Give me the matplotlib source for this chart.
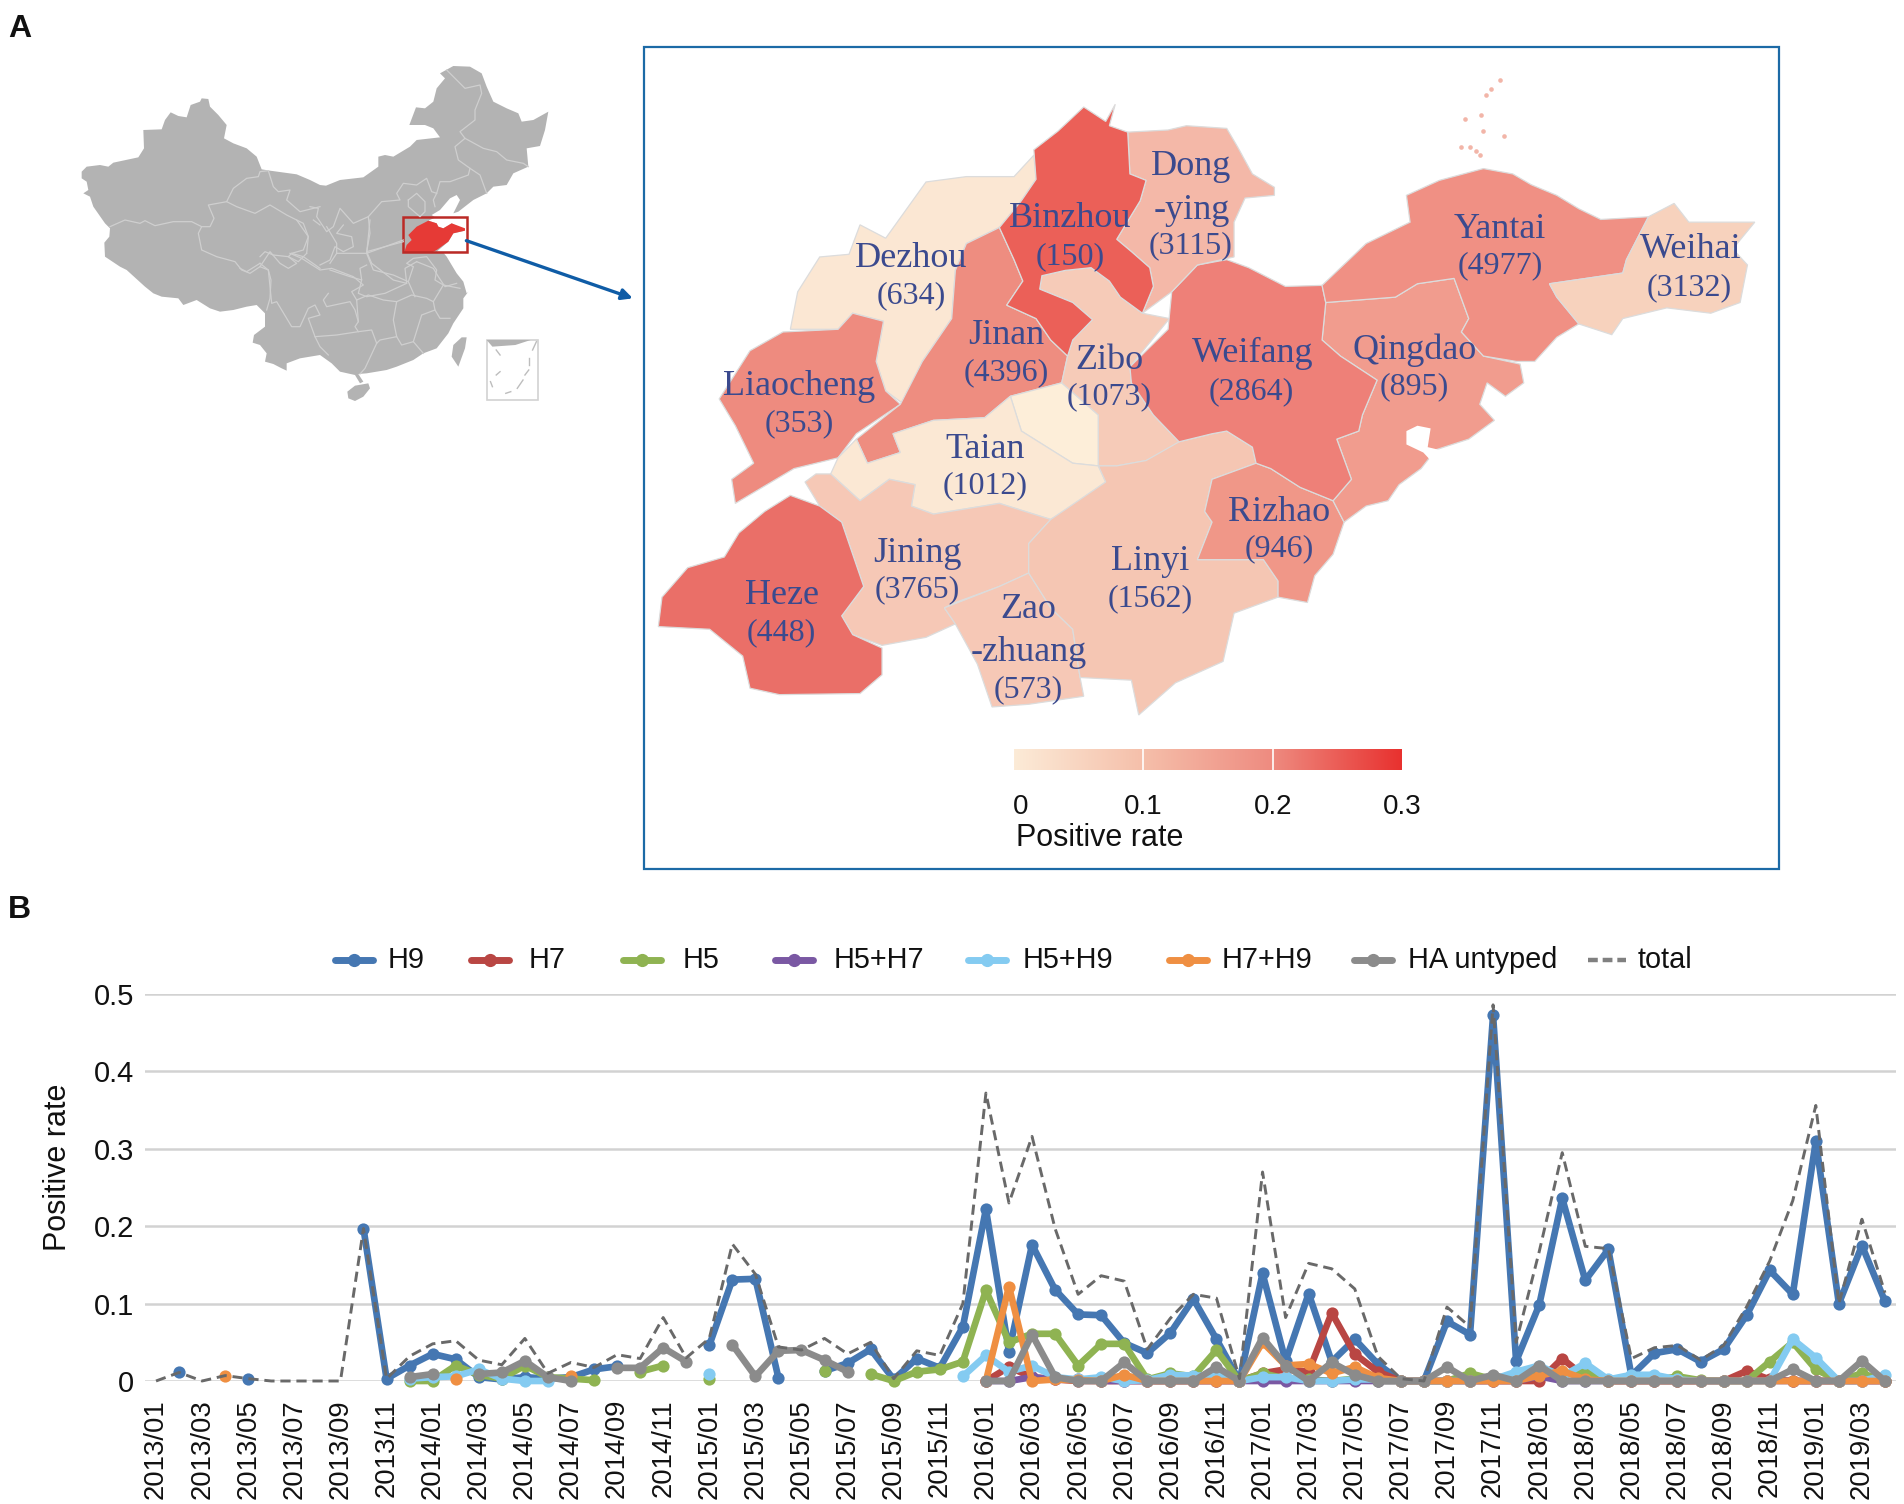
import matplotlib
matplotlib.use("Agg")
import matplotlib.pyplot as plt
import numpy as np
from matplotlib.colors import LinearSegmentedColormap
from matplotlib.patches import Polygon, Rectangle

plt.rcParams["font.family"] = ["Liberation Sans", "DejaVu Sans"]

W, H = 1904, 1504
n = np.nan

months = [f"{y}/{m:02d}" for y in range(2013, 2020) for m in range(1, 13)][:76]

h9 = [n, .011, n, n, .003, n, n, n, n, .197,
      .003, .02, .035, .028, .005, .002, .005, .003, .005, .015,
      .019, n, n, n, .046, .131, .132, .004, n, .013,
      .023, .041, .002, .029, .017, .07, .222, .038, .176, .118,
      .086, .085, .049, .036, .062, .106, .054, 0, .139, .0255,
      .113, .025, .054, .022, 0, 0, .077, .06, .4725, .0255,
      .098, .236, .13, .17, .007, .036, .041, .025, .041, .085,
      .143, .112, .31, .10, .175, .103]
h7 = [n, n, n, n, n, n, n, n, n, n,
      n, n, n, n, n, n, n, n, n, n,
      n, n, n, n, n, n, n, n, n, n,
      n, n, n, n, n, n, 0, .018, .005, .002,
      0, 0, 0, 0, 0, 0, 0, 0, .01, .015,
      .012, .088, .035, .012, 0, 0, 0, 0, 0, 0,
      0, .029, .005, 0, 0, 0, 0, 0, 0, .013,
      .002, 0, 0, 0, 0, 0]
h5 = [n, n, n, n, n, n, n, n, n, n,
      n, 0, 0, .02, .008, .003, .02, .005, .003, .001,
      n, .012, .02, n, .003, n, n, n, n, .013,
      n, .009, 0, .012, .015, .025, .117, .05, .061, .061,
      .02, .048, .048, .002, .01, .006, .04, 0, .01, .003,
      .002, 0, .003, 0, 0, 0, 0, .01, .002, .005,
      .01, .008, .012, 0, .001, .001, .006, .001, 0, 0,
      .025, .05, .015, 0, .01, 0]
h5h7 = [n, n, n, n, n, n, n, n, n, n,
        n, n, n, n, n, n, n, n, n, n,
        n, n, n, n, n, n, n, n, n, n,
        n, n, n, n, n, n, 0, 0, .005, .002,
        .002, 0, 0, 0, 0, 0, 0, 0, 0, 0,
        0, 0, 0, 0, 0, 0, 0, 0, 0, 0,
        .006, 0, 0, 0, 0, 0, 0, 0, 0, 0,
        0, 0, 0, 0, 0, 0]
h5h9 = [n, n, n, n, n, n, n, n, n, n,
        n, .003, .005, .006, .015, .003, 0, 0, n, n,
        n, n, n, n, .009, n, n, n, n, n,
        n, n, n, n, n, .006, .033, .012, .02, .005,
        .002, .005, 0, .001, .008, .007, .007, 0, .005, .005,
        0, 0, .002, .002, 0, 0, 0, 0, .002, .012,
        .02, .006, .023, .002, .008, .008, .002, 0, 0, 0,
        0, .054, .03, 0, 0, .008]
h7h9 = [n, n, n, .007, n, n, n, n, n, n,
        n, n, n, .002, n, n, n, n, .007, n,
        n, n, n, n, n, n, n, n, n, n,
        n, n, n, n, n, n, 0, .122, 0, .002,
        .001, 0, .008, 0, 0, 0, 0, 0, .05, .02,
        .022, .01, .018, .004, 0, 0, 0, 0, 0, 0,
        .007, .013, .002, 0, 0, 0, 0, 0, 0, 0,
        0, 0, 0, 0, 0, 0]
ha_untyped = [n, n, n, n, n, n, n, n, n, n,
              n, .005, .009, n, .009, .011, .026, .005, 0, n,
              .017, .017, .043, .025, n, .047, .006, .039, .04, .027,
              .012, n, n, n, n, n, 0, 0, .06, .005,
              0, 0, .024, 0, 0, 0, .018, 0, .056, .02,
              0, .024, .008, 0, 0, 0, .018, 0, .008, 0,
              .02, 0, 0, 0, 0, 0, 0, 0, 0, 0,
              0, .015, 0, 0, .026, 0]
total = [0, .011, 0, .007, .003, 0, 0, 0, 0, .197,
         .003, .032, .048, .052, .027, .021, .055, .01, .024, .0175,
         .034, .029, .082, .03, .055, .177, .138, .044, .04, .055,
         .035, .05, .003, .039, .033, .10, .372, .23, .316, .197,
         .112, .136, .129, .041, .081, .112, .107, .003, .27, .082,
         .152, .145, .119, .032, .003, 0, .0955, .07, .486, .05,
         .167, .295, .174, .171, .029, .043, .046, .027, .046, .096,
         .155, .233, .356, .10, .209, .114]

series_names = ["H9", "H7", "H5", "H5+H7", "H5+H9", "H7+H9", "HA untyped"]
series_values = [h9, h7, h5, h5h7, h5h9, h7h9, ha_untyped]
series_colors = ["#4577b2", "#b94643", "#8fb352", "#7a58a3", "#84cbf1", "#ef8f42", "#8b8b8b"]

# Shandong outlines
binzhou = [(605, 125), (635, 152), (648, 120), (640, 160), (665, 172), (668, 250), (690, 262), (682, 300),
           (650, 372), (670, 395), (695, 425), (700, 460), (685, 510), (655, 480), (640, 450), (615, 425),
           (580, 430), (548, 440), (545, 465), (590, 490), (617, 522), (590, 560), (583, 590), (560, 560),
           (540, 520), (500, 495), (522, 450), (510, 410), (490, 350), (520, 300), (540, 260), (537, 205), (570, 170)]
dongying = [(665, 172), (720, 168), (745, 160), (800, 165), (815, 200), (835, 250), (865, 275), (865, 290),
            (825, 295), (810, 340), (810, 405), (760, 420), (725, 470), (685, 510), (700, 460), (695, 425),
            (670, 395), (650, 372), (682, 300), (690, 262), (668, 250)]
weifang = [(760, 420), (800, 410), (830, 425), (880, 460), (930, 458), (935, 490), (930, 560), (955, 590),
           (1005, 635), (985, 700), (980, 730), (950, 745), (970, 820), (945, 860), (900, 835), (860, 800),
           (840, 790), (835, 760), (800, 730), (780, 735), (735, 750), (700, 700), (670, 640), (668, 610),
           (720, 540), (725, 470)]
yantai = [(930, 458), (990, 380), (1050, 340), (1045, 290), (1090, 262), (1150, 240), (1190, 250), (1215, 270),
          (1250, 290), (1280, 315), (1310, 335), (1375, 330), (1345, 410), (1340, 435), (1240, 455), (1250, 480),
          (1280, 530), (1250, 555), (1220, 600), (1195, 600), (1150, 590), (1120, 545), (1130, 520), (1110, 445),
          (1060, 455), (1030, 480), (935, 490)]
qingdao = [(935, 490), (1030, 480), (1060, 455), (1110, 445), (1130, 520), (1120, 545), (1150, 590), (1200, 605),
           (1205, 640), (1180, 665), (1155, 640), (1145, 680), (1165, 710), (1130, 745), (1085, 765), (1065, 800),
           (1035, 830), (1020, 860), (990, 870), (960, 900), (945, 860), (970, 820), (950, 745), (980, 730),
           (985, 700), (1005, 635), (955, 590), (930, 560)]
jiaozhou_bay = [(1045, 730), (1060, 720), (1078, 725), (1074, 760), (1105, 770), (1085, 795), (1068, 770), (1045, 755)]
weihai = [(1375, 330), (1410, 305), (1430, 340), (1520, 340), (1490, 390), (1510, 420), (1500, 490), (1460, 510),
          (1400, 500), (1340, 520), (1325, 550), (1280, 530), (1250, 480), (1240, 455), (1340, 435), (1345, 410)]
dezhou = [(537, 215), (540, 260), (520, 300), (490, 350), (445, 380), (430, 430), (425, 520), (385, 600),
          (360, 680), (335, 655), (322, 600), (332, 525), (290, 510), (270, 540), (205, 540), (215, 470),
          (245, 405), (285, 400), (300, 345), (335, 370), (390, 265), (445, 255), (510, 255)]
liaocheng = [(290, 510), (332, 525), (322, 600), (335, 655), (355, 680), (295, 735), (270, 780), (210, 800),
             (130, 865), (125, 820), (155, 790), (130, 720), (108, 670), (150, 580), (195, 545), (270, 540)]
jinan = [(490, 350), (510, 410), (522, 450), (500, 495), (540, 520), (560, 560), (583, 590), (575, 640),
         (505, 665), (470, 705), (400, 710), (345, 735), (355, 770), (310, 790), (295, 745), (355, 680),
         (385, 600), (425, 520), (430, 430), (445, 380)]
zibo = [(548, 440), (580, 430), (615, 425), (640, 450), (655, 480), (685, 510), (722, 520), (668, 610),
        (670, 640), (700, 700), (735, 750), (720, 775), (690, 785), (650, 795), (625, 795), (625, 700),
        (575, 640), (583, 590), (590, 560), (617, 522), (590, 490), (545, 465)]
taian = [(505, 665), (520, 730), (590, 790), (625, 795), (635, 825), (590, 870), (560, 895), (490, 865),
         (400, 885), (370, 870), (375, 830), (340, 820), (300, 860), (260, 810), (270, 780), (295, 745),
         (310, 790), (355, 770), (345, 735), (400, 710), (470, 705)]
laiwu = [(505, 665), (575, 640), (625, 700), (625, 795), (590, 790), (520, 730)]
jining = [(225, 825), (240, 810), (260, 810), (300, 860), (340, 820), (375, 830), (370, 870), (400, 885),
          (490, 865), (560, 895), (530, 940), (530, 995), (490, 1020), (430, 1050), (415, 1060), (430, 1090),
          (390, 1115), (330, 1130), (290, 1110), (275, 1075), (305, 1020), (275, 900), (245, 870)]
heze = [(205, 850), (245, 870), (275, 900), (305, 1020), (275, 1075), (290, 1110), (330, 1135), (330, 1185),
        (300, 1220), (190, 1222), (150, 1210), (140, 1150), (95, 1100), (25, 1095), (30, 1040), (65, 985),
        (115, 965), (135, 920), (170, 880)]
zaozhuang = [(415, 1060), (490, 1020), (530, 995), (560, 1060), (590, 1100), (600, 1190), (605, 1225), (530, 1240),
             (480, 1245), (460, 1165), (430, 1090)]
linyi = [(530, 940), (560, 895), (635, 825), (625, 795), (650, 795), (690, 785), (735, 750), (780, 735),
         (800, 730), (835, 760), (840, 790), (780, 820), (770, 880), (780, 900), (760, 970), (850, 970),
         (870, 1010), (870, 1040), (810, 1070), (795, 1160), (730, 1200), (680, 1260), (670, 1195), (600, 1190),
         (590, 1100), (560, 1060), (530, 995)]
rizhao = [(840, 790), (860, 800), (900, 835), (945, 860), (960, 900), (945, 960), (920, 1000), (910, 1050),
          (870, 1040), (870, 1010), (850, 970), (760, 970), (780, 900), (770, 880), (780, 820)]

city_shapes = [dezhou, liaocheng, jinan, laiwu, zibo, taian, jining, heze, zaozhuang, linyi, rizhao,
               qingdao, weifang, yantai, weihai, dongying, binzhou]
city_colors = ["#fbe7d3", "#ee8b7f", "#ee8d80", "#fdeed9", "#f6cbb8", "#fbe8d4", "#f6c8b6", "#ea6f68", "#f6c8b6",
               "#f5c6b3", "#f09788", "#f19c8e", "#ee8078", "#f09084", "#f7d2bd", "#f4b8a8", "#eb6058"]
island_x = [1173, 1160, 1153, 1147, 1125, 1132, 1140, 1145, 1178, 1120, 1150]
island_y = [75, 92, 102, 140, 148, 200, 208, 215, 180, 200, 170]

city_labels = ["Binzhou", "(150)", "Dong", "-ying", "(3115)", "Dezhou", "(634)", "Jinan", "(4396)",
               "Liaocheng", "(353)", "Zibo", "(1073)", "Taian", "(1012)", "Weifang", "(2864)",
               "Qingdao", "(895)", "Yantai", "(4977)", "Weihai", "(3132)", "Rizhao", "(946)",
               "Jining", "(3765)", "Linyi", "(1562)", "Heze", "(448)", "Zao", "-zhuang", "(573)"]
label_x = [587, 587, 752, 752, 750, 370, 370, 500, 500, 217, 217, 640, 640, 470, 470, 835, 833,
           1056, 1056, 1173, 1173, 1432, 1430, 872, 872, 378, 378, 695, 695, 193, 193, 530, 530, 530]
label_y = [330, 400, 232, 315, 380, 405, 474, 548, 618, 643, 712, 594, 662, 760, 828, 582, 652,
           575, 643, 350, 418, 388, 458, 878, 946, 955, 1023, 970, 1040, 1033, 1103, 1060, 1140, 1210]

# China outline, three traced crops (west, east, south) at 3x
china_north_west = [(35, 335), (50, 320), (90, 315), (115, 320), (130, 308), (205, 292), (222, 265), (220, 210),
                    (275, 208), (285, 180), (302, 157), (325, 168), (350, 172), (362, 135), (390, 125), (395, 115),
                    (415, 117), (420, 140), (445, 165), (470, 195), (462, 235), (490, 250), (530, 265), (560, 290),
                    (575, 328), (600, 332), (680, 343), (720, 360), (750, 375)]
china_north_east = [(48, 377), (90, 360), (160, 352), (205, 320), (205, 290), (225, 285), (250, 290), (300, 260),
                    (320, 240), (390, 232), (370, 205), (345, 195), (298, 195), (318, 142), (345, 145), (370, 125),
                    (380, 85), (405, 55), (390, 40), (430, 18), (480, 20), (515, 40), (530, 80), (550, 125),
                    (590, 145), (625, 160), (635, 185), (670, 180), (715, 155), (705, 210), (690, 258), (650, 265),
                    (655, 320), (610, 340), (590, 375), (550, 380), (530, 400), (490, 420), (445, 455), (430, 460),
                    (450, 420), (440, 405), (420, 415), (390, 450), (365, 465), (375, 472), (468, 472), (468, 575),
                    (400, 578), (410, 590), (440, 640), (460, 665), (470, 700)]
china_south = [(685, 215), (670, 235), (670, 265), (640, 310), (625, 340), (590, 385), (550, 400), (520, 420),
               (470, 440), (440, 450), (380, 460), (355, 462), (370, 485), (360, 490), (345, 465), (300, 455),
               (275, 430), (240, 405), (180, 415), (140, 430), (140, 452), (125, 445), (100, 432), (75, 425),
               (80, 400), (60, 375), (38, 368), (42, 345), (75, 320), (75, 280), (50, 255), (20, 260)]
china_south_west = [(490, 750), (450, 755), (420, 745), (380, 720), (340, 735), (325, 715), (275, 710), (250, 700),
                    (225, 680), (170, 630), (150, 620), (105, 590), (103, 548), (118, 530), (120, 505), (105, 490),
                    (70, 440), (60, 410), (40, 400), (55, 390), (50, 365), (35, 355)]
taiwan = [(665, 352), (680, 352), (675, 385), (655, 440), (635, 410), (640, 375)]
hainan = [(345, 497), (385, 490), (390, 505), (370, 530), (345, 543), (325, 535), (322, 515)]
shandong = [(285, 570), (290, 555), (305, 540), (295, 525), (320, 500), (355, 482), (380, 490), (385, 500),
            (400, 505), (425, 490), (465, 505), (465, 512), (430, 520), (415, 545), (380, 570), (365, 578), (285, 578)]
shandong_sea = [(375, 473), (468, 473), (468, 575), (380, 575), (415, 545), (430, 520), (465, 512), (425, 490),
                (400, 505), (385, 500), (380, 490), (355, 482)]

borders_west = [
    [(120, 500), (165, 480), (210, 490), (225, 482), (255, 497), (310, 485), (365, 485), (395, 500), (420, 500),
     (432, 475), (415, 435), (470, 425), (490, 385), (530, 355), (565, 350), (570, 335), (595, 332), (610, 380),
     (625, 395), (660, 390), (650, 420), (690, 455), (750, 440)],
    [(470, 425), (500, 440), (555, 460), (600, 435), (650, 465), (700, 490), (715, 530), (700, 570), (665, 580),
     (655, 590), (680, 610), (655, 625), (630, 610), (600, 575), (570, 620), (540, 640), (515, 630), (495, 605),
     (440, 590), (395, 570), (385, 520), (395, 500)],
    [(570, 620), (595, 630), (603, 660), (600, 715), (590, 750)],
    [(665, 580), (700, 590), (750, 625)],
    [(730, 480), (750, 495)],
]
borders_east = [
    [(410, 30), (440, 60), (465, 85), (510, 75), (515, 100), (495, 150), (495, 180), (450, 215), (465, 235),
     (435, 260), (445, 300), (480, 325), (475, 345), (420, 365), (390, 365), (380, 400), (365, 395), (350, 355),
     (320, 375), (280, 370), (260, 400), (270, 420), (215, 425), (175, 470), (180, 520), (170, 575), (280, 545)],
    [(465, 235), (520, 265), (560, 275), (590, 300), (640, 310), (655, 320)],
    [(480, 325), (510, 345), (530, 400)],
    [(295, 420), (320, 400), (345, 425), (345, 455), (330, 470), (295, 440), (295, 420)],
    [(380, 400), (370, 420), (375, 440)],
    [(0, 440), (25, 445), (20, 470), (50, 515), (70, 500), (90, 445), (130, 490), (175, 470)],
    [(100, 495), (80, 520), (125, 530), (130, 560), (100, 575), (75, 560), (60, 600), (30, 615)],
    [(170, 575), (185, 610), (250, 660), (290, 670), (285, 625), (320, 605)],
    [(320, 605), (370, 625), (385, 650), (405, 680), (440, 670)],
    [(60, 630), (120, 650), (155, 660), (150, 625), (170, 615)],
    [(155, 660), (145, 700), (170, 710), (225, 700), (290, 670)],
]
borders_south = [
    [(150, 100), (185, 115), (240, 150), (275, 145), (340, 170), (370, 195), (335, 215), (350, 240), (355, 305)],
    [(60, 110), (75, 95), (100, 105), (145, 110), (175, 125), (200, 100)],
    [(60, 130), (85, 150), (95, 250), (110, 245), (155, 320), (180, 320), (205, 265), (225, 255), (240, 285),
     (205, 295), (225, 350), (240, 380), (265, 405)],
    [(60, 130), (20, 155), (0, 145)],
    [(225, 350), (290, 345), (355, 335), (395, 330), (410, 370), (375, 445), (360, 462)],
    [(265, 220), (250, 240), (260, 260), (330, 245), (345, 270), (355, 305), (345, 320), (355, 335)],
    [(350, 240), (385, 225), (430, 240), (470, 245), (515, 225), (560, 235), (580, 245), (610, 195), (660, 205)],
    [(470, 245), (460, 300), (470, 350), (420, 360), (410, 370)],
    [(470, 350), (485, 375), (520, 365), (545, 285), (585, 270), (600, 295), (630, 295)],
    [(520, 365), (550, 400)],
    [(580, 245), (585, 270)],
    [(380, 100), (400, 150), (460, 165), (505, 185), (525, 230)],
    [(505, 185), (520, 140), (500, 130), (520, 115), (560, 110), (590, 150), (585, 180), (610, 195)],
    [(380, 100), (490, 60)],
    [(260, 20), (290, 70), (290, 100), (270, 130)],
    [(290, 100), (380, 100), (390, 0)],
    [(200, 100), (205, 50), (170, 0)],
]
sea_inset = [(1115, 870), (1230, 870), (1190, 885), (1130, 890)]
inset_dashes = [[(1140, 900), (1150, 915)], [(1225, 925), (1225, 945)], [(1150, 965), (1140, 975)],
                [(1225, 960), (1215, 975)], [(1125, 995), (1130, 1010)], [(1210, 990), (1195, 1015)],
                [(1178, 1025), (1165, 1030)], [(1245, 875), (1235, 900)]]

gradient_colors = ["#fcebd7", "#f5bfaa", "#ee8b80", "#e8312f"]

legend_line_x = [335, 471, 623, 775, 968, 1169, 1354, 1588]
legend_text_x = [388, 529, 683, 834, 1023, 1222, 1408, 1638]


def map_xy(points):
    # inset map was traced on a 1150x840 crop shown at 1568 square
    return [(640 + x * 1150 / 1568, 40 + y * 840 / 1568) for x, y in points]


def overview_xy(points):
    return [(60 + x * 600 / 1568, 50 + y * 370 / 1110) for x, y in points]


def crop_xy(points, x0, y0):
    return [(x0 + x / 3, y0 + y / 3) for x, y in points]


def west_xy(points):
    return crop_xy(points, 70, 60)


def east_xy(points):
    return crop_xy(points, 310, 60)


def south_xy(points):
    return crop_xy(points, 240, 220)


def px_axes(fig, left, top, right, bottom):
    return fig.add_axes([left / W, 1 - bottom / H, (right - left) / W, (bottom - top) / H])


fig = plt.figure(figsize=(W / 100, H / 100), dpi=100)

bg = fig.add_axes([0, 0, 1, 1])
bg.set_xlim(0, W)
bg.set_ylim(H, 0)
bg.axis("off")

# China overview
china = west_xy(china_north_west) + east_xy(china_north_east) + south_xy(china_south) + west_xy(china_south_west)
bg.add_patch(Polygon(china, closed=True, fc="#b3b3b3", ec="none"))
bg.add_patch(Polygon(south_xy(taiwan), closed=True, fc="#b3b3b3", ec="none"))
bg.add_patch(Polygon(south_xy(hainan), closed=True, fc="#b3b3b3", ec="none"))
for lines, conv in [(borders_west, west_xy), (borders_east, east_xy), (borders_south, south_xy)]:
    for line in lines:
        xy = np.array(conv(line))
        bg.plot(xy[:, 0], xy[:, 1], color="#cfcfcf", lw=0.9)
bg.add_patch(Polygon(east_xy(shandong_sea), closed=True, fc="white", ec="none"))
bg.add_patch(Polygon(east_xy(shandong), closed=True, fc="#e63a36", ec="none"))
bg.add_patch(Rectangle((403.3, 216.7), 63.4, 35.6, fc="none", ec="#bb2a26", lw=1.8))
ix0, iy0 = overview_xy([(1115, 870)])[0]
ix1, iy1 = overview_xy([(1250, 1050)])[0]
bg.add_patch(Rectangle((ix0, iy0), ix1 - ix0, iy1 - iy0, fc="white", ec="#d2d2d2", lw=1.2))
bg.add_patch(Polygon(overview_xy(sea_inset), closed=True, fc="#b3b3b3", ec="none"))
for line in inset_dashes:
    xy = np.array(overview_xy(line))
    bg.plot(xy[:, 0], xy[:, 1], color="#bdbdbd", lw=1)
bg.annotate("", xy=overview_xy([(1497, 745)])[0], xytext=overview_xy([(1062, 572)])[0],
            arrowprops=dict(arrowstyle="-|>", color="#0f5ca6", lw=2.4, mutation_scale=16, shrinkA=0, shrinkB=0))

# Shandong map
bg.add_patch(Rectangle((644, 47), 1135, 822, fc="white", ec="#1c6aa6", lw=1.6))
for shape, col in zip(city_shapes, city_colors):
    bg.add_patch(Polygon(map_xy(shape), closed=True, fc=col, ec="#dcdcdc", lw=0.9))
bg.add_patch(Polygon(map_xy(jiaozhou_bay), closed=True, fc="white", ec="none"))
isl = np.array(map_xy(list(zip(island_x, island_y))))
bg.scatter(isl[:, 0], isl[:, 1], s=11, color="#f2b5a8", lw=0)
for text, x, y in zip(city_labels, label_x, label_y):
    px, py = map_xy([(x, y)])[0]
    size = 23 if text.startswith("(") else 26
    bg.text(px, py + 2, text, ha="center", va="center", fontsize=size, color="#3b4a8e",
            family=["Liberation Serif", "DejaVu Serif"])

bg.text(8, 29, "A", fontsize=23, fontweight="bold", va="center", color="#111111")
bg.text(8, 910, "B", fontsize=23, fontweight="bold", va="center", color="#111111")

# colour bar
cmap = LinearSegmentedColormap.from_list("rate", gradient_colors)
cax = px_axes(fig, 1014, 749, 1402, 770)
cax.imshow(np.linspace(0, 1, 256)[None, :], cmap=cmap, aspect="auto", extent=[0, 0.3, 0, 1])
cax.vlines([0.1, 0.2], 0, 1, color="white", lw=1.2)
cax.set_xticks([0.005, 0.1, 0.2, 0.3])
cax.set_xticklabels(["0", "0.1", "0.2", "0.3"], fontsize=20, color="#111111")
cax.set_yticks([])
cax.tick_params(axis="x", length=0, pad=17)
for s in cax.spines.values():
    s.set_visible(False)
bg.text(1016, 838, "Positive rate", fontsize=22, va="center", color="#111111")

# time series
ax = px_axes(fig, 144.5, 994, 1896.5, 1381)
ax.patch.set_alpha(0)
xs = np.arange(len(months))
for name, vals, col in zip(series_names, series_values, series_colors):
    ax.plot(xs, vals, color=col, lw=4.8, marker="o", ms=8.8, mew=0, label=name,
            solid_capstyle="round", clip_on=False, zorder=3)
ax.plot(xs, total, color="#696969", lw=2.1, ls=(0, (3.5, 2)), label="total", clip_on=False, zorder=4)

ax.set_xlim(-0.5, 75.5)
ax.set_ylim(0, 0.5)
ax.set_yticks([0, 0.1, 0.2, 0.3, 0.4, 0.5])
ax.set_yticklabels(["0", "0.1", "0.2", "0.3", "0.4", "0.5"], fontsize=21, color="#111111")
ax.set_xticks(xs[::2])
ax.set_xticklabels(months[::2], rotation=90, fontsize=19.8, color="#111111")
ax.tick_params(axis="both", length=0)
ax.tick_params(axis="x", pad=13)
ax.tick_params(axis="y", pad=7.5)
ax.grid(axis="y", color="#d2d2d2", lw=1.8, zorder=0)
ax.set_axisbelow(True)
for s in ax.spines.values():
    s.set_visible(False)
bg.text(58, 1167, "Positive rate", rotation=90, fontsize=22, ha="center", va="center", color="#111111")

# legend placed by hand, its gaps are not even in the original
leg_y = 960
for i, name in enumerate(series_names + ["total"]):
    x0 = legend_line_x[i]
    if name == "total":
        bg.plot([x0, x0 + 38], [leg_y, leg_y], color="#808080", lw=3.2, ls=(0, (2.2, 1.1)))
    else:
        bg.plot([x0, x0 + 38], [leg_y, leg_y], color=series_colors[i], lw=5, solid_capstyle="round")
        bg.plot([x0 + 19], [leg_y], color=series_colors[i], marker="o", ms=9.5, mew=0)
    bg.text(legend_text_x[i], leg_y, name, fontsize=20.8, va="center", color="#111111")
bg.set_xlim(0, W)
bg.set_ylim(H, 0)

fig.savefig("out.png", dpi=100, facecolor="white")
plt.close(fig)
